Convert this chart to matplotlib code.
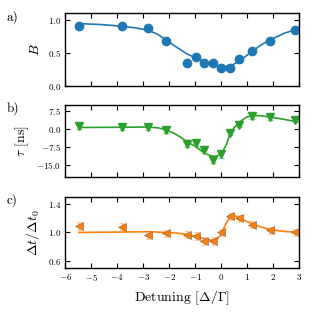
import numpy as np
import matplotlib
matplotlib.use("Agg")
import matplotlib.pyplot as plt

plt.rcParams['font.family'] = ['cmr10', 'DejaVu Serif']
plt.rcParams['mathtext.fontset'] = 'cm'
plt.rcParams['axes.formatter.use_mathtext'] = True
plt.rcParams['axes.unicode_minus'] = True

# Detuning of the measured points
detuning = [-5.47, -3.81, -2.81, -2.14, -1.31, -0.97, -0.65, -0.32, 0.01, 0.35, 0.68, 1.19, 1.86, 2.85]

# a) visibility B
B_pts = [0.91, 0.90, 0.88, 0.67, 0.35, 0.44, 0.35, 0.35, 0.27, 0.27, 0.40, 0.53, 0.68, 0.85]
B_fit_x = [-5.47, -4.6, -3.81, -3.3, -2.81, -2.45, -2.14, -1.85, -1.58, -1.3, -0.97, -0.65,
           -0.32, 0.01, 0.35, 0.68, 0.95, 1.19, 1.5, 1.86, 2.4, 3.0]
B_fit = [0.94, 0.925, 0.90, 0.875, 0.84, 0.78, 0.70, 0.62, 0.55, 0.48, 0.42, 0.37,
         0.32, 0.29, 0.30, 0.37, 0.45, 0.52, 0.61, 0.69, 0.79, 0.87]

# b) delay tau [ns]
tau_pts = [1.1, 0.8, 0.6, -0.6, -6.1, -5.8, -8.6, -12.8, -10.6, -1.5, 1.8, 5.4, 5.1, 3.9]
tau_err = [1.2, 1.2, 1.2, 1.2, 1.3, 1.3, 1.3, 1.3, 1.3, 1.2, 1.2, 1.2, 1.2, 1.2]
tau_fit_x = [-5.47, -3.81, -2.81, -2.4, -2.14, -1.85, -1.58, -1.3, -0.97, -0.65, -0.45,
             -0.32, -0.15, 0.01, 0.2, 0.35, 0.5, 0.68, 0.85, 0.99, 1.19, 1.5, 1.86, 2.4, 3.0]
tau_fit = [0.6, 0.7, 0.8, 0.4, -0.3, -1.6, -3.3, -5.4, -7.5, -10.0, -11.0,
           -11.4, -11.3, -10.3, -6.5, -1.9, 0.6, 2.5, 4.0, 5.0, 5.6, 5.5, 5.0, 4.0, 2.8]

# c) width ratio
dt_pts = [1.09, 1.08, 0.96, 0.99, 0.97, 0.95, 0.88, 0.88, 1.00, 1.23, 1.20, 1.11, 1.03, 1.00]
dt_err = [0.05] * 14
dt_fit_x = [-5.47, -3.81, -2.81, -2.14, -1.7, -1.31, -0.97, -0.65, -0.45, -0.32, -0.15, 0.01,
            0.15, 0.35, 0.5, 0.68, 0.95, 1.19, 1.5, 1.86, 2.4, 3.0]
dt_fit = [1.00, 1.005, 1.01, 1.00, 0.99, 0.97, 0.945, 0.91, 0.895, 0.89, 0.91, 0.98,
          1.10, 1.23, 1.235, 1.21, 1.16, 1.12, 1.08, 1.04, 1.015, 1.00]

blue = '#1f77b4'
green = '#2ca02c'
orange = '#ff7f0e'

fig = plt.figure(figsize=(3.16, 3.16), dpi=100)
L, W = 0.206, 0.741
ax1 = fig.add_axes([L, 0.728, W, 0.231])
ax2 = fig.add_axes([L, 0.440, W, 0.228])
ax3 = fig.add_axes([L, 0.152, W, 0.225])

lab_fs = 10

# a)
ax1.plot(B_fit_x, B_fit, color=blue, lw=1.2)
ax1.plot(detuning, B_pts, 'o', color=blue, ms=6)
ax1.set_ylim(0, 1.1)
ax1.set_yticks([0.0, 0.5, 1.0])
ax1.set_ylabel(r'$B$', fontsize=lab_fs)

# b)
ax2.plot(tau_fit_x, tau_fit, color=green, lw=1.2)
ax2.errorbar(detuning, tau_pts, yerr=tau_err, fmt='v', color=green, ms=6,
             ecolor='#8fd18f', elinewidth=1, capsize=2)
ax2.set_ylim(-20, 10)
ax2.set_yticks([-15.0, -7.5, 0.0, 7.5])
ax2.set_ylabel(r'$\tau$ [ns]', fontsize=lab_fs)

# c)
ax3.plot(dt_fit_x, dt_fit, color=orange, lw=1.2)
ax3.errorbar(detuning, dt_pts, yerr=dt_err, fmt='<', color=orange, ms=6,
             mec='#8a5a2a', mew=0.4, ecolor='#ffb070', elinewidth=1, capsize=2)
ax3.set_ylim(0.5, 1.5)
ax3.set_yticks([0.6, 1.0, 1.4])
ax3.set_ylabel(r'$\Delta t/\Delta t_0$', fontsize=lab_fs)
ax3.set_xlabel(r'Detuning [$\Delta/\Gamma$]', fontsize=lab_fs)

for ax in (ax1, ax2, ax3):
    ax.set_xlim(-6, 3)
    ax.set_xticks(range(-6, 4))
    ax.tick_params(direction='in', top=True, right=True, length=3.5, width=0.8,
                   labelsize=6.5, pad=3)
    for s in ax.spines.values():
        s.set_linewidth(1.0)
for ax in (ax1, ax2):
    ax.tick_params(labelbottom=False)

fig.text(0.022, 0.968, 'a)', fontsize=9.5, va='top')
fig.text(0.022, 0.680, 'b)', fontsize=9.5, va='top')
fig.text(0.022, 0.388, 'c)', fontsize=9.5, va='top')

fig.savefig('out.png', dpi=100)
